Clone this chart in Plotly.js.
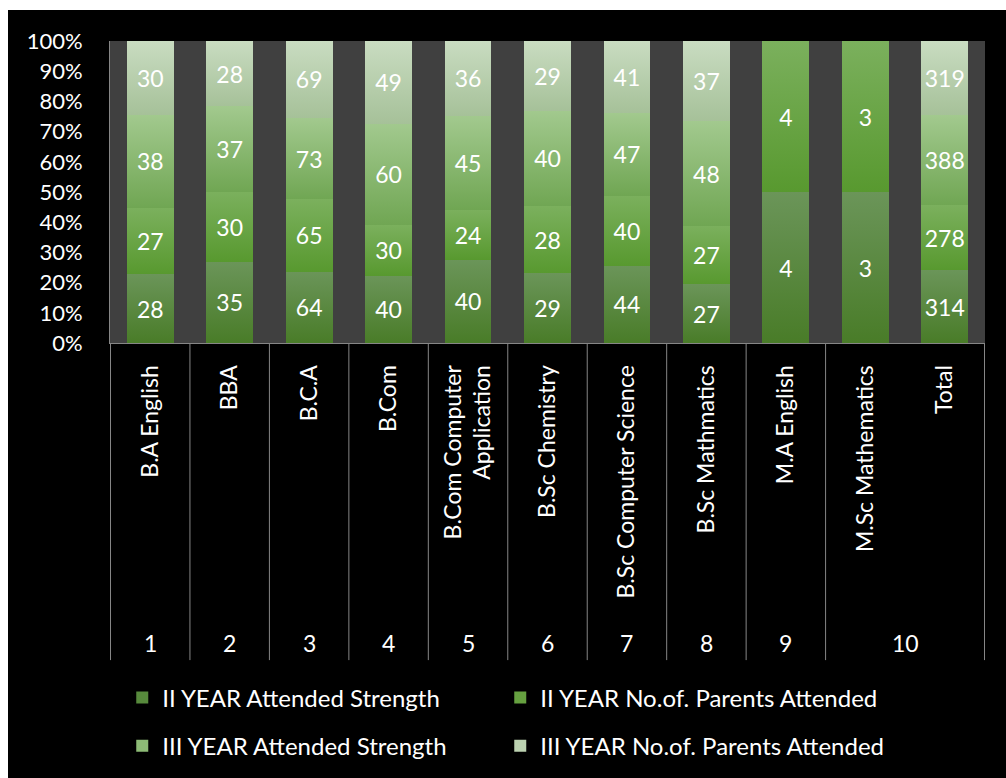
<!DOCTYPE html>
<html>
<head>
<meta charset="utf-8">
<script src="https://cdn.plot.ly/plotly-3.0.1.min.js"></script>
<style>
  html, body { margin: 0; padding: 0; background: #ffffff; }
  #chart { position: absolute; left: 8px; top: 10px; width: 998px; height: 768px; }
</style>
</head>
<body>
<div id="chart"></div>
<script>
// ---- data ----
const categories = ['B.A English', 'BBA', 'B.C.A', 'B.Com', 'B.Com Computer<br>Application',
  'B.Sc Chemistry', 'B.Sc Computer Science', 'B.Sc Mathmatics', 'M.A English',
  'M.Sc Mathematics', 'Total'];
const groupNumbers = ['1', '2', '3', '4', '5', '6', '7', '8', '9', '10', '10'];
const seriesNames = ['II YEAR Attended Strength', 'II YEAR No.of. Parents Attended',
  'III YEAR Attended Strength', 'III YEAR No.of. Parents Attended'];
const iiYearStrength  = [28, 35, 64, 40, 40, 29, 44, 27, 4, 3, 314];
const iiYearParents   = [27, 30, 65, 30, 24, 28, 40, 27, 4, 3, 278];
const iiiYearStrength = [38, 37, 73, 60, 45, 40, 47, 48, null, null, 388];
const iiiYearParents  = [30, 28, 69, 49, 36, 29, 41, 37, null, null, 319];
const percentTicks = [0, 10, 20, 30, 40, 50, 60, 70, 80, 90, 100];

// ---- styles ----
const FONT = 'Lato, "Open Sans", sans-serif';
const solid = ['#578a3c', '#66a140', '#8dbb76', '#bcd2b1'];
const grad = [['#497c28', '#6b9559'], ['#58992f', '#7bb05d'], ['#70a653', '#a2c98e'], ['#a6c199', '#c9dcc1']];
const legendOf = ['legend', 'legend2', 'legend3', 'legend4'];
const seriesValues = [iiYearStrength, iiYearParents, iiiYearStrength, iiiYearParents];

const traces = seriesValues.map((vals, i) => ({
  type: 'bar',
  name: seriesNames[i],
  x: categories,
  y: vals,
  text: vals.map(v => (v === null ? '' : String(v))),
  texttemplate: '%{text}',
  textposition: 'inside',
  insidetextanchor: 'middle',
  constraintext: 'none',
  textfont: { family: FONT, size: 23, color: '#ffffff' },
  insidetextfont: { family: FONT, size: 23, color: '#ffffff' },
  marker: { color: solid[i], line: { width: 0 } },
  legend: legendOf[i],
  hoverinfo: 'skip'
}));

// divider lines & group labels below the axis
const shapes = [];
const annotations = [];
const n = categories.length;
const lineColor = '#868686';
for (let i = 0; i <= n; i++) {
  const isEdge = (i === 0 || i === n);
  if (isEdge || groupNumbers[i] !== groupNumbers[i - 1]) {
    shapes.push({
      type: 'line', xref: 'x', yref: 'paper',
      x0: i - 0.5, x1: i - 0.5, y0: 0, y1: -1.05,
      line: { color: lineColor, width: 1 }
    });
  }
}
let start = 0;
for (let i = 1; i <= n; i++) {
  if (i === n || groupNumbers[i] !== groupNumbers[start]) {
    annotations.push({
      xref: 'x', yref: 'paper', x: (start + i - 1) / 2, y: -0.993,
      text: groupNumbers[start], showarrow: false,
      xanchor: 'center', yanchor: 'middle',
      font: { family: FONT, size: 23, color: '#ffffff' }
    });
    start = i;
  }
}

const legendCommon = {
  orientation: 'h', xanchor: 'left', yanchor: 'middle',
  font: { family: FONT, size: 24, color: '#ffffff' },
  bgcolor: 'rgba(0,0,0,0)',
  itemclick: false, itemdoubleclick: false, traceorder: 'normal'
};

const layout = {
  width: 998, height: 768,
  margin: { l: 102, r: 21, t: 31, b: 434 },
  paper_bgcolor: '#000000',
  plot_bgcolor: '#404040',
  barmode: 'stack',
  barnorm: 'percent',
  bargap: 0.41,
  showlegend: true,
  font: { family: FONT, color: '#ffffff' },
  xaxis: {
    type: 'category', tickangle: -90, ticks: '', showgrid: false,
    showline: true, linecolor: lineColor, linewidth: 1,
    tickfont: { family: FONT, size: 23, color: '#ffffff' },
    ticklabelstandoff: 12, fixedrange: true
  },
  yaxis: {
    range: [0, 100], tickmode: 'array', tickvals: percentTicks,
    ticktext: percentTicks.map(v => v + '%'),
    ticks: '', showgrid: false, zeroline: false,
    showline: true, linecolor: lineColor, linewidth: 1,
    tickfont: { family: FONT, size: 22, color: '#ffffff' },
    ticklabelstandoff: 22, fixedrange: true
  },
  legend: Object.assign({}, legendCommon, { x: 0.014, y: -1.168 }),
  legend2: Object.assign({}, legendCommon, { x: 0.446, y: -1.168 }),
  legend3: Object.assign({}, legendCommon, { x: 0.014, y: -1.327 }),
  legend4: Object.assign({}, legendCommon, { x: 0.446, y: -1.327 }),
  shapes: shapes,
  annotations: annotations
};

function applyGradients(gd) {
  const svg = gd.querySelector('.main-svg');
  if (!svg) return;
  const NS = 'http://www.w3.org/2000/svg';
  let defs = svg.querySelector('defs#bargrads');
  if (!defs) {
    defs = document.createElementNS(NS, 'defs');
    defs.setAttribute('id', 'bargrads');
    grad.forEach((g, i) => {
      const lg = document.createElementNS(NS, 'linearGradient');
      lg.setAttribute('id', 'bargrad' + i);
      lg.setAttribute('x1', '0'); lg.setAttribute('y1', '1');
      lg.setAttribute('x2', '0'); lg.setAttribute('y2', '0');
      [[0, g[0]], [1, g[1]]].forEach(([o, c]) => {
        const st = document.createElementNS(NS, 'stop');
        st.setAttribute('offset', String(o));
        st.setAttribute('stop-color', c);
        lg.appendChild(st);
      });
      defs.appendChild(lg);
    });
    svg.insertBefore(defs, svg.firstChild);
  }
  const tracesG = gd.querySelectorAll('.barlayer .trace');
  tracesG.forEach((t, i) => {
    t.querySelectorAll('.point path').forEach(p => { p.style.fill = 'url(#bargrad' + i + ')'; });
  });
}

const gd = document.getElementById('chart');
Plotly.newPlot(gd, traces, layout, { displayModeBar: false, staticPlot: true }).then(() => applyGradients(gd));
</script>
</body>
</html>
